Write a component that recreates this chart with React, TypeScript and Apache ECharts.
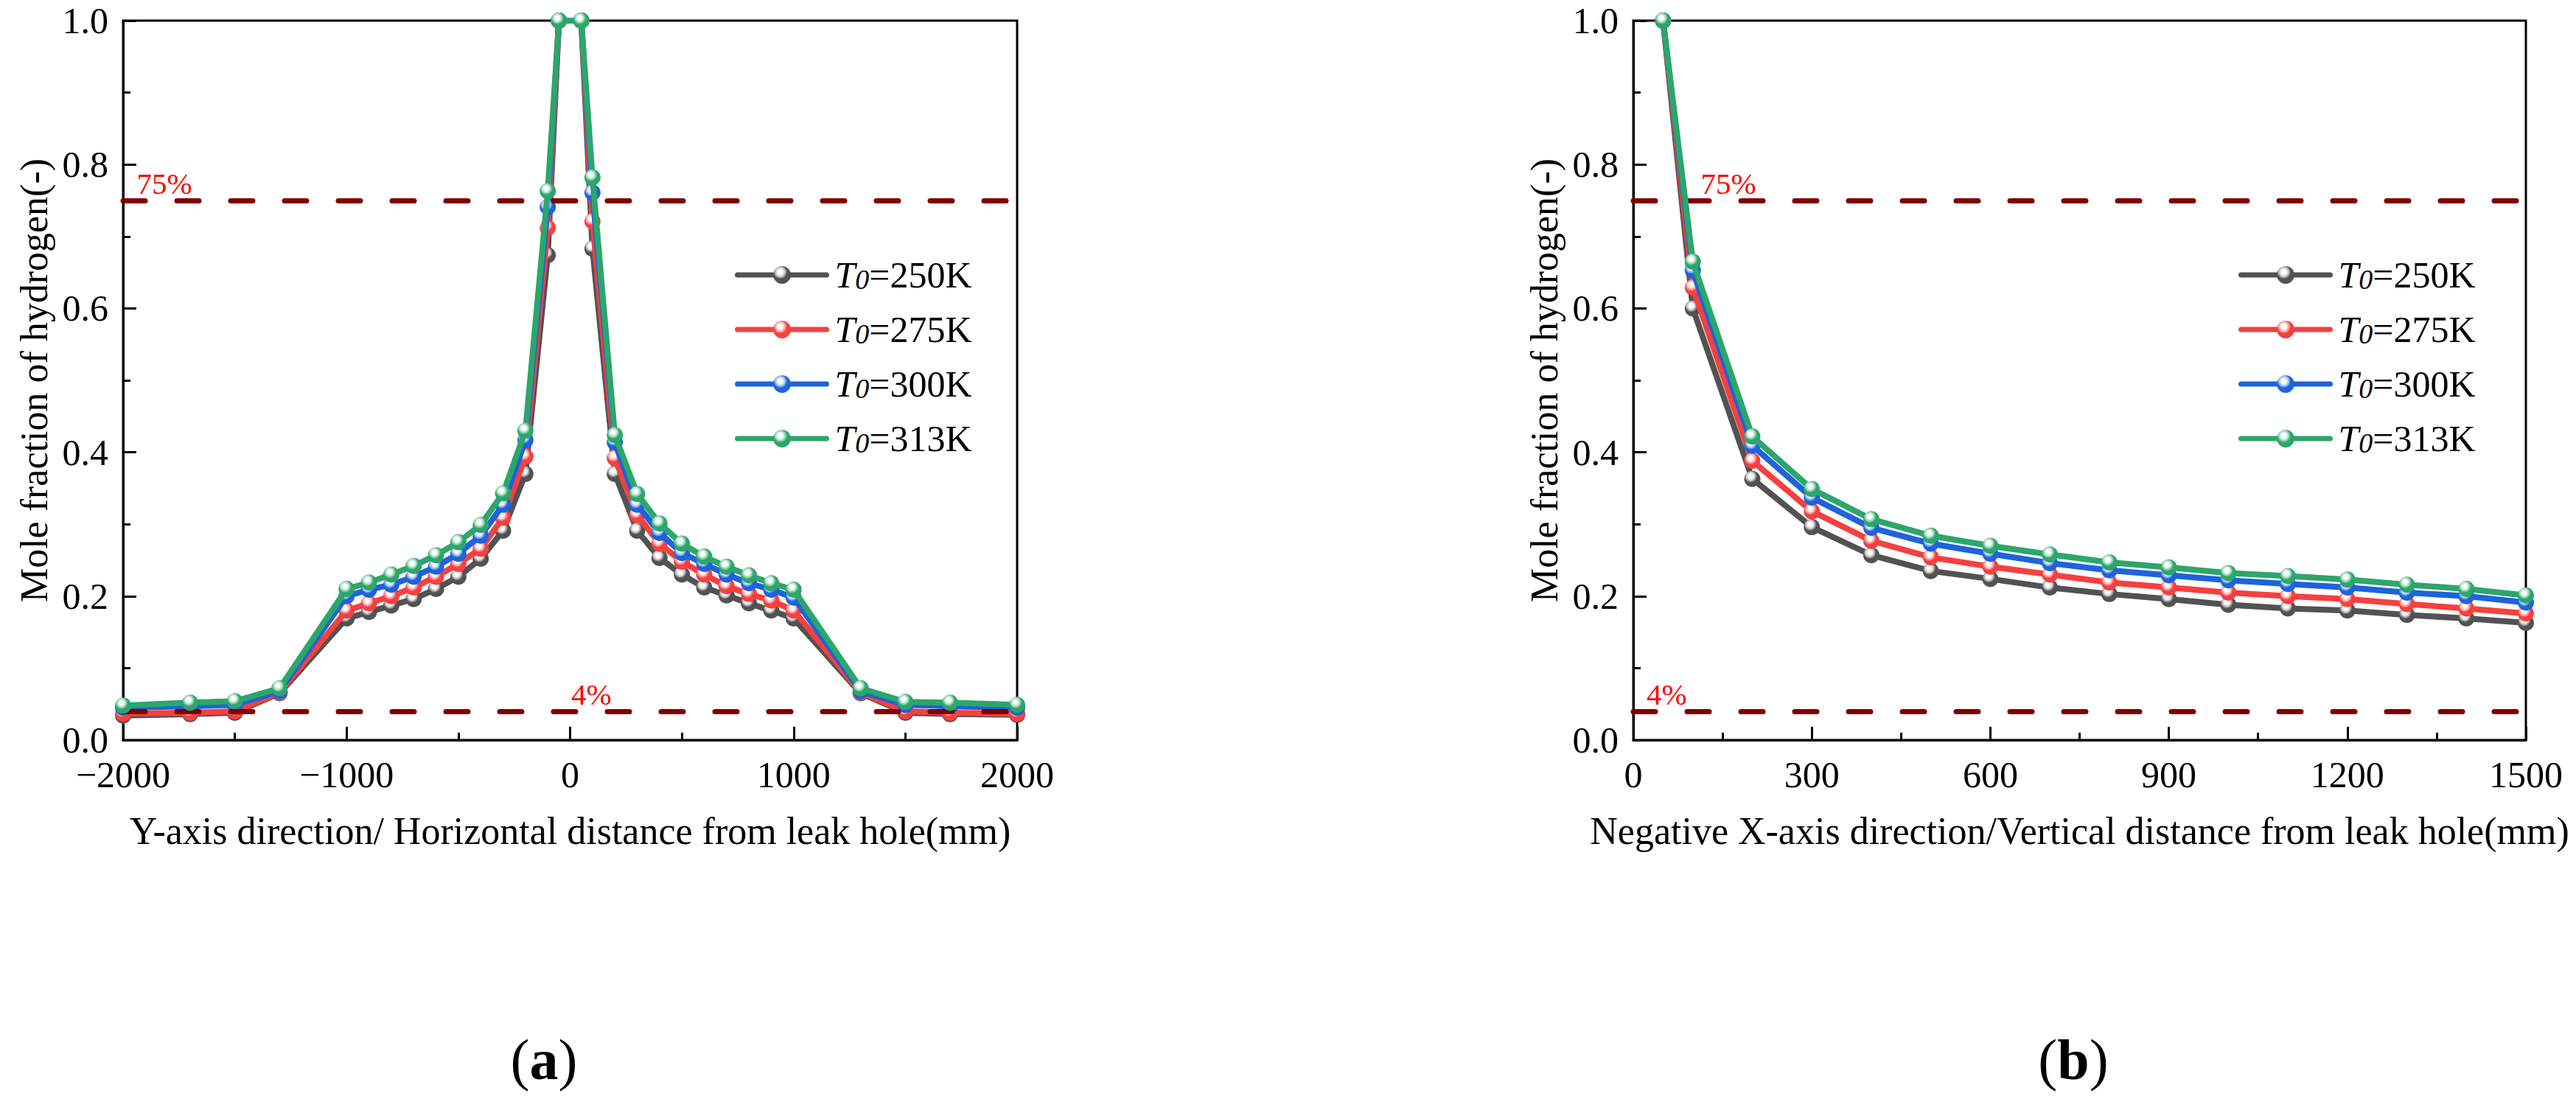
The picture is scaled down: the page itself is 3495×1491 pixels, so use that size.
import { useEffect, useRef } from 'react';
import * as echarts from 'echarts';

const FONT = '"Liberation Serif", "Times New Roman", serif';

// legend names and colours
const seriesNames = ['T0=250K', 'T0=275K', 'T0=300K', 'T0=313K'];
const seriesColors = ['#525252', '#f5403f', '#1d63db', '#2ca66a'];
const glossColors = ['#cfcfcf', '#fdb9b8', '#b0caf4', '#b0e0c8'];

// (a) horizontal distance from leak hole (mm)
const horizX = [
  -2000, -1700, -1500, -1300, -1000, -900, -800, -700, -600, -500, -400, -300, -200, -100, -50,
  50, 100, 200, 300, 400, 500, 600, 700, 800, 900, 1000, 1300, 1500, 1700, 2000,
];
const horiz250 = [
  0.034, 0.036, 0.038, 0.065, 0.169, 0.178, 0.187, 0.196, 0.21, 0.227, 0.252, 0.291, 0.37, 0.674, 1.0,
  1.0, 0.683, 0.37, 0.291, 0.253, 0.23, 0.212, 0.201, 0.19, 0.18, 0.169, 0.065, 0.038, 0.036, 0.035,
];
const horiz275 = [
  0.037, 0.038, 0.04, 0.066, 0.18, 0.19, 0.2, 0.212, 0.227, 0.245, 0.266, 0.309, 0.394, 0.712, 1.0,
  1.0, 0.721, 0.392, 0.313, 0.273, 0.248, 0.23, 0.214, 0.203, 0.194, 0.18, 0.066, 0.04, 0.038, 0.037,
];
const horiz300 = [
  0.045, 0.047, 0.049, 0.068, 0.2, 0.209, 0.216, 0.227, 0.241, 0.259, 0.284, 0.327, 0.417, 0.741, 1.0,
  1.0, 0.761, 0.414, 0.327, 0.288, 0.26, 0.245, 0.23, 0.218, 0.209, 0.198, 0.068, 0.049, 0.047, 0.045,
];
const horiz313 = [
  0.048, 0.052, 0.054, 0.072, 0.21, 0.219, 0.23, 0.242, 0.257, 0.275, 0.299, 0.343, 0.43, 0.763, 1.0,
  1.0, 0.782, 0.424, 0.342, 0.301, 0.273, 0.255, 0.241, 0.229, 0.218, 0.209, 0.072, 0.053, 0.052, 0.049,
];

// (b) vertical distance from leak hole (mm)
const vertX = [50, 100, 200, 300, 400, 500, 600, 700, 800, 900, 1000, 1100, 1200, 1300, 1400, 1500];
const vert250 = [1.0, 0.6, 0.363, 0.296, 0.257, 0.235, 0.224, 0.212, 0.203, 0.196, 0.188, 0.183, 0.18, 0.174, 0.169, 0.163];
const vert275 = [1.0, 0.629, 0.388, 0.318, 0.277, 0.254, 0.241, 0.23, 0.219, 0.212, 0.205, 0.2, 0.196, 0.189, 0.183, 0.176];
const vert300 = [1.0, 0.653, 0.409, 0.337, 0.295, 0.273, 0.259, 0.246, 0.236, 0.229, 0.222, 0.217, 0.212, 0.205, 0.2, 0.191];
const vert313 = [1.0, 0.665, 0.422, 0.349, 0.307, 0.284, 0.27, 0.258, 0.247, 0.24, 0.232, 0.228, 0.223, 0.216, 0.21, 0.201];

// threshold lines and where their labels sit
const thresholdValues = [0.75, 0.04];
const thresholdLabels = ['75%', '4%'];
const horizLabelX = [-1815, 95];
const vertLabelX = [160, 56];

const sphere = (i: number) =>
  new echarts.graphic.RadialGradient(0.4, 0.34, 0.6, [
    { offset: 0, color: '#ffffff' },
    { offset: 0.2, color: '#ffffff' },
    { offset: 0.42, color: glossColors[i] },
    { offset: 0.66, color: seriesColors[i] },
    { offset: 1, color: seriesColors[i] },
  ]);

function buildLines(xs: number[], ys: number[][], idx: number) {
  return ys.map((vals, i) => ({
    name: seriesNames[i],
    type: 'line',
    xAxisIndex: idx,
    yAxisIndex: idx,
    data: xs.map((x, k) => [x, vals[k]]),
    symbol: 'circle',
    symbolSize: 22,
    showAllSymbol: true,
    clip: false,
    z: 2 + i,
    lineStyle: { color: seriesColors[i], width: 8, join: 'round' },
    itemStyle: { color: sphere(i), borderWidth: 0 },
    emphasis: { disabled: true },
  }));
}

function buildThresholds(labelXs: number[], idx: number) {
  return {
    name: 'threshold' + idx,
    type: 'line',
    xAxisIndex: idx,
    yAxisIndex: idx,
    data: [],
    z: 10,
    silent: true,
    markLine: {
      silent: true,
      symbol: 'none',
      label: { show: false },
      lineStyle: { color: '#800000', width: 7, type: [30, 43], cap: 'round' },
      data: thresholdValues.map((v) => ({ yAxis: v })),
    },
    markPoint: {
      silent: true,
      symbol: 'circle',
      symbolSize: 1,
      itemStyle: { color: 'rgba(0,0,0,0)' },
      label: {
        show: true,
        position: 'top',
        distance: 2,
        color: '#ff0000',
        fontFamily: FONT,
        fontSize: 41,
        formatter: (p: any) => p.name,
      },
      data: thresholdValues.map((v, k) => ({ name: thresholdLabels[k], coord: [labelXs[k], v] })),
    },
  };
}

const tickLine = { color: '#000', width: 3 };

function xAxisFor(idx: number, min: number, max: number, interval: number, name: string) {
  return {
    type: 'value',
    gridIndex: idx,
    min,
    max,
    interval,
    name,
    nameLocation: 'middle',
    nameGap: 97,
    nameTextStyle: { fontFamily: FONT, fontSize: 52, color: '#000' },
    axisLine: { onZero: false, lineStyle: tickLine },
    axisTick: { inside: true, length: 18, lineStyle: tickLine },
    minorTick: { show: true, splitNumber: 2, length: 10, lineStyle: tickLine },
    splitLine: { show: false },
    axisLabel: {
      margin: 22,
      fontFamily: FONT,
      fontSize: 50,
      color: '#000',
      formatter: (v: number) => (v < 0 ? '\u2212' + Math.abs(v) : String(v)),
    },
  };
}

function yAxisFor(idx: number) {
  return {
    type: 'value',
    gridIndex: idx,
    min: 0,
    max: 1,
    interval: 0.2,
    name: 'Mole fraction of hydrogen(-)',
    nameLocation: 'middle',
    nameGap: 95,
    nameTextStyle: { fontFamily: FONT, fontSize: 52, color: '#000' },
    axisLine: { onZero: false, lineStyle: tickLine },
    axisTick: { inside: true, length: 18, lineStyle: tickLine },
    minorTick: { show: true, splitNumber: 2, length: 10, lineStyle: tickLine },
    splitLine: { show: false },
    axisLabel: {
      margin: 20,
      fontFamily: FONT,
      fontSize: 50,
      lineHeight: 40,
      color: '#000',
      formatter: (v: number) => v.toFixed(1),
    },
  };
}

function legendAt(left: number) {
  return {
    orient: 'vertical',
    left,
    top: 343,
    itemWidth: 121,
    itemHeight: 30,
    itemGap: 24,
    selectedMode: false,
    data: seriesNames,
    lineStyle: { width: 7, cap: 'round' },
    itemStyle: { borderWidth: 0 },
    formatter: (name: string) => `{t|T}{s|0}{n|${name.slice(2)}}`,
    textStyle: {
      rich: {
        t: { fontFamily: FONT, fontStyle: 'italic', fontSize: 50, lineHeight: 50, verticalAlign: 'bottom', padding: [0, 0, 0, 6], color: '#000' },
        s: { fontFamily: FONT, fontStyle: 'italic', fontSize: 38, lineHeight: 18, verticalAlign: 'bottom', color: '#000' },
        n: { fontFamily: FONT, fontSize: 50, lineHeight: 50, verticalAlign: 'bottom', color: '#000' },
      },
    },
  };
}

function panelTag(letter: string, x: number) {
  return {
    type: 'text',
    x,
    y: 1437,
    style: {
      text: `{p|(}{b|${letter}}{p|)}`,
      align: 'center',
      verticalAlign: 'middle',
      rich: {
        p: { fontFamily: FONT, fontSize: 78, fill: '#000' },
        b: { fontFamily: FONT, fontSize: 78, fontWeight: 'bold', fill: '#000' },
      },
    },
  };
}

export default function App() {
  const chartRef = useRef<HTMLDivElement>(null);

  useEffect(() => {
    if (!chartRef.current) return;
    document.body.style.margin = '0';

    const chart = echarts.init(chartRef.current, null, { renderer: 'svg' });

    const option = {
      animation: false,
      backgroundColor: '#fff',
      grid: [
        { left: 167, top: 28, width: 1213, height: 976, show: true, borderColor: '#000', borderWidth: 3, backgroundColor: 'transparent' },
        { left: 2216, top: 28, width: 1211, height: 976, show: true, borderColor: '#000', borderWidth: 3, backgroundColor: 'transparent' },
      ],
      xAxis: [
        xAxisFor(0, -2000, 2000, 1000, 'Y-axis direction/ Horizontal distance from leak hole(mm)'),
        xAxisFor(1, 0, 1500, 300, 'Negative X-axis direction/Vertical distance from leak hole(mm)'),
      ],
      yAxis: [yAxisFor(0), yAxisFor(1)],
      legend: [legendAt(992), legendAt(3032)],
      series: [
        ...buildLines(horizX, [horiz250, horiz275, horiz300, horiz313], 0),
        ...buildLines(vertX, [vert250, vert275, vert300, vert313], 1),
        buildThresholds(horizLabelX, 0),
        buildThresholds(vertLabelX, 1),
      ],
      graphic: [panelTag('a', 738), panelTag('b', 2813)],
    };

    chart.setOption(option as any);

    return () => {
      chart.dispose();
    };
  }, []);

  return <div ref={chartRef} style={{ width: '3495px', height: '1491px' }} />;
}
